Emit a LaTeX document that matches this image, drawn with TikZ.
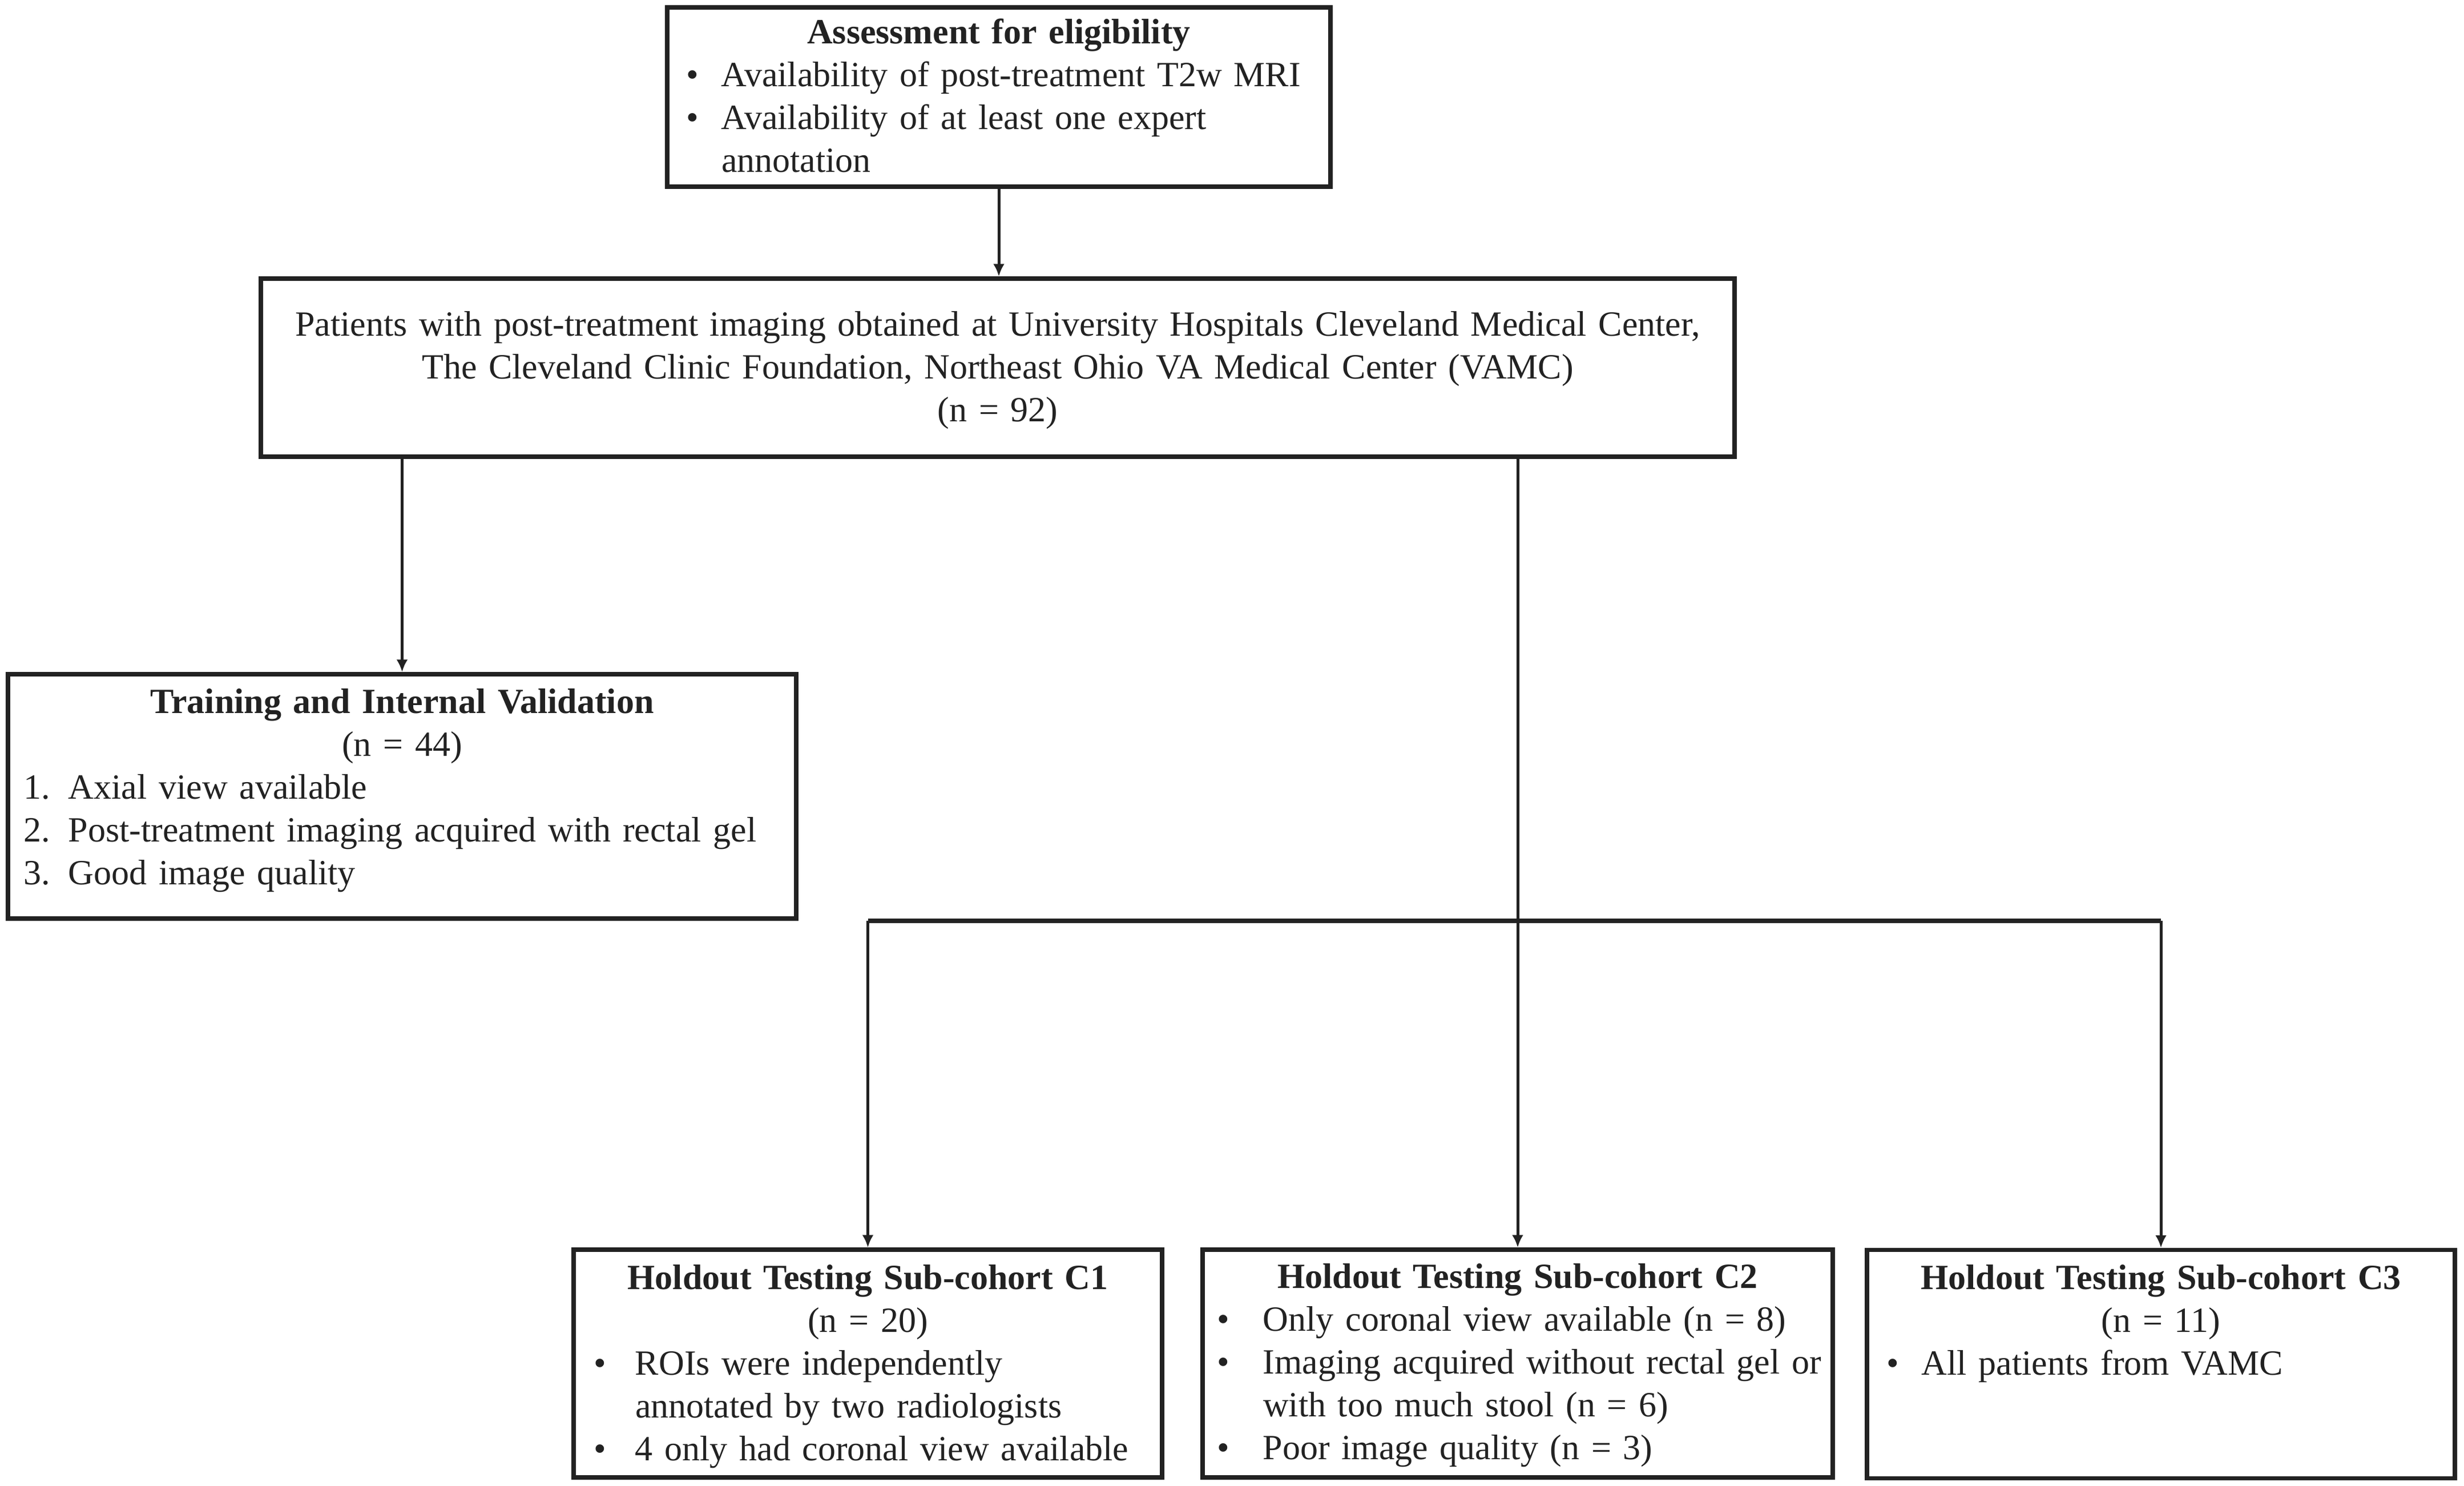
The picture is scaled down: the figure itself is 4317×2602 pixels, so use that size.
\documentclass[tikz,border=0pt]{standalone}
\usepackage{fontspec}
\setmainfont{Liberation Serif}
\usetikzlibrary{arrows.meta,positioning}
\definecolor{ink}{HTML}{222222}
\newcommand{\itm}[3][12.4pt]{\par\hangindent=#1\hangafter=1\noindent\makebox[#1][l]{#2}#3\par}

\begin{document}
\begin{tikzpicture}[x=0.2pt, y=-0.2pt, every node/.style={font=\fontsize{12.4}{15}\selectfont, text=ink},
			box/.style={draw=ink, line width=1.5pt, rectangle, inner sep=0pt},
			boxtxt/.style={inner sep=0pt, anchor=base, align=left},
			link/.style={draw=ink, line width=1pt},
			arr/.style={link, -{Latex[length=4.4pt, width=4pt]}}]
			\useasboundingbox (0,0) rectangle (4317,2602);
			% boxes
			\node[box, minimum width=232.4pt, minimum height=62.8pt] (elig) at (1750,170) {};
			\node[box, minimum width=516.4pt, minimum height=62.4pt] (pool) at (1748,644) {};
			\node[box, minimum width=276.2pt, minimum height=85.6pt] (train) at (704.5,1395) {};
			\node[box, minimum width=206.2pt, minimum height=79.8pt] (c1) at (1520.5,2388.5) {};
			\node[box, minimum width=220.8pt, minimum height=79.8pt] (c2) at (2659,2388.5) {};
			\node[box, minimum width=206pt, minimum height=80pt] (c3) at (3786,2389.5) {};
			% texts
			\node[boxtxt, text width=219.2pt] (eligtxt) at ([yshift=-13.4pt]elig.north) {%
				\centerline{\bfseries Assessment for eligibility}
				\itm{\textbullet}{Availability of post-treatment T2w MRI}
				\itm{\textbullet}{Availability of at least one expert\newline annotation}};
			\node[boxtxt, text width=500pt] (pooltxt) at ([yshift=-20.8pt]pool.north) {%
				\centerline{Patients with post-treatment imaging obtained at University Hospitals Cleveland Medical Center,}
				\centerline{The Cleveland Clinic Foundation, Northeast Ohio VA Medical Center (VAMC)}
				\centerline{(n = 92)}};
			\node[boxtxt, text width=265pt] (traintxt) at ([yshift=-14.4pt]train.north) {%
				\centerline{\bfseries Training and Internal Validation}
				\centerline{(n = 44)}
				\itm[15.6pt]{1.}{Axial view available}
				\itm[15.6pt]{2.}{Post-treatment imaging acquired with rectal gel}
				\itm[15.6pt]{3.}{Good image quality}};
			\node[boxtxt, text width=192.2pt] (c1txt) at ([yshift=-14.6pt]c1.north) {%
				\centerline{\bfseries Holdout Testing Sub-cohort C1}
				\centerline{(n = 20)}
				\itm[14.6pt]{\textbullet}{ROIs were independently\newline annotated by two radiologists}
				\itm[14.6pt]{\textbullet}{4 only had coronal view available}};
			\node[boxtxt, text width=210.8pt] (c2txt) at ([yshift=-14.2pt]c2.north) {%
				\centerline{\bfseries Holdout Testing Sub-cohort C2}
				\itm[16.2pt]{\textbullet}{Only coronal view available (n = 8)}
				\itm[16.2pt]{\textbullet}{\mbox{Imaging acquired without rectal gel or}\newline with too much stool (n = 6)}
				\itm[16.2pt]{\textbullet}{Poor image quality (n = 3)}};
			\node[boxtxt, text width=192.4pt] (c3txt) at ([yshift=-14.6pt]c3.north) {%
				\centerline{\bfseries Holdout Testing Sub-cohort C3}
				\centerline{(n = 11)}
				\itm{\textbullet}{All patients from VAMC}};
			% connectors
			\draw[arr] (elig.south) -- (elig.south |- pool.north);
			\draw[arr] (pool.south -| train.north) -- (train.north);
			\draw[arr] (pool.south -| c2.north) -- (c2.north);
			\coordinate (split) at (2658,1613);
			\draw[link, line width=1.5pt] (split -| c1.north) -- (split -| c3.north);
			\draw[arr] (split -| c1.north) -- (c1.north);
			\draw[arr] (split -| c3.north) -- (c3.north);
\end{tikzpicture}
\end{document}
